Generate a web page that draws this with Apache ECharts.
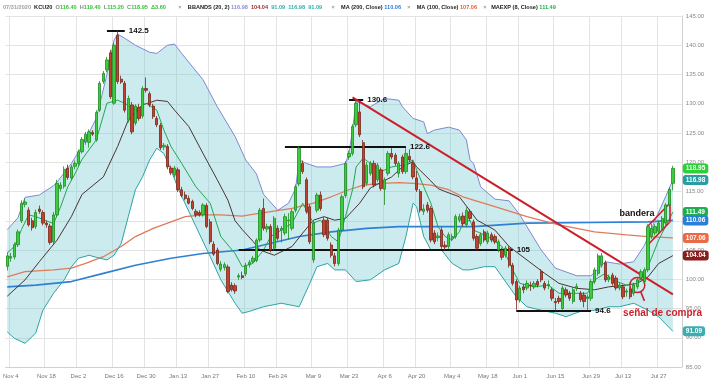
<!DOCTYPE html>
<html><head><meta charset="utf-8">
<script src="https://cdn.jsdelivr.net/npm/echarts@6/dist/echarts.min.js"></script>
<style>html,body{margin:0;padding:0;background:#fff}#c{width:710px;height:383px}</style>
</head><body><div id="c"></div>
<script>
// trading days (category axis)
const tradingDays = [
  ["Nov",[1,4,5,6,7,8,11,12,13,14,15,18,19,20,21,22,25,26,27,29]],
  ["Dec",[2,3,4,5,6,9,10,11,12,13,16,17,18,19,20,23,24,26,27,30,31]],
  ["Jan",[2,3,6,7,8,9,10,13,14,15,16,17,21,22,23,24,27,28,29,30,31]],
  ["Feb",[3,4,5,6,7,10,11,12,13,14,18,19,20,21,24,25,26,27,28]],
  ["Mar",[2,3,4,5,6,9,10,11,12,13,16,17,18,19,20,23,24,25,26,27,30,31]],
  ["Apr",[1,2,3,6,7,8,9,13,14,15,16,17,20,21,22,23,24,27,28,29,30]],
  ["May",[1,4,5,6,7,8,11,12,13,14,15,18,19,20,21,22,26,27,28,29]],
  ["Jun",[1,2,3,4,5,8,9,10,11,12,15,16,17,18,19,22,23,24,25,26,29,30]],
  ["Jul",[1,2,6,7,8,9,10,13,14,15,16,17,20,21,22,23,24,27,28,29,30,31]],
  ["Aug",[3,4]]
];
const labelDates = ["Nov 4","Nov 18","Dec 2","Dec 16","Dec 30","Jan 13","Jan 27","Feb 10","Feb 24","Mar 9","Mar 23","Apr 6","Apr 20","May 4","May 18","Jun 1","Jun 15","Jun 29","Jul 13","Jul 27"];
const yTicks = [85,90,95,100,105,110,115,120,125,130,135,140,145];

// OHLC (KCU20 daily)
const opens = [102.2,103.6,103.8,105.9,110.0,112.8,111.8,110.0,109.0,112.0,111.4,109.6,109.1,106.4,111.0,115.5,115.9,119.0,117.3,119.3,
119.8,121.8,123.5,123.4,125.1,123.8,128.9,133.8,135.8,138.7,130.1,141.7,134.2,133.5,127.2,129.8,126.7,129.4,127.9,132.6,131.7,
129.6,127.5,126.3,122.6,122.7,119.0,117.8,118.7,115.3,114.4,113.8,113.3,111.6,111.4,111.0,112.6,109.8,106.0,105.0,101.7,102.0,
102.1,99.0,98.9,100.4,100.6,100.9,102.5,103.0,103.2,106.7,112.1,108.6,109.0,105.3,108.7,108.4,107.9,110.0,108.7,
111.8,116.3,119.8,117.0,112.4,103.3,111.8,114.4,110.1,110.1,105.85,104.0,102.7,108.4,114.3,120.9,121.5,126.4,128.6,123.35,116.4,118.1,
119.8,117.0,118.7,115.4,118.1,121.5,121.2,118.1,120.9,118.4,121.0,119.8,117.3,115.0,111.6,112.7,112.1,107.9,107.1,108.4,105.8,
105.6,107.0,107.3,110.1,110.8,109.3,111.55,109.8,107.3,106.1,108.1,106.4,107.6,107.3,105.0,105.0,104.1,105.3,102.4,99.6,
96.45,98.7,98.5,99.0,98.7,99.6,101.3,99.3,98.9,98.2,96.2,96.75,95.0,98.2,97.6,96.2,98.5,97.6,97.3,96.7,96.75,99.6,
101.0,102.4,102.8,99.9,100.7,100.2,98.5,98.7,97.8,98.2,97.6,98.7,100.2,99.6,101.6,107.3,107.9,108.2,108.7,109.6,112.7,116.4];
const highs = [104.6,104.5,106.3,108.5,113.5,113.8,112.3,110.5,111.9,112.6,111.8,110.0,109.5,111.5,117.0,116.6,119.3,119.6,119.6,120.3,
122.2,124.3,125.2,125.6,125.5,128.9,133.9,135.6,138.0,139.2,140.4,142.5,134.8,133.9,131.4,130.3,129.9,130.0,133.0,134.5,132.1,
130.0,127.9,126.7,123.3,123.1,119.4,119.4,119.1,115.8,115.0,114.3,113.6,112.0,111.8,113.0,113.0,110.3,106.5,105.4,103.1,102.9,
102.5,99.5,99.3,101.0,101.3,102.8,103.3,104.0,107.0,112.2,113.8,109.5,109.4,110.8,109.2,109.1,111.2,111.3,112.0,
116.2,122.8,120.3,117.4,112.8,110.0,114.8,115.0,110.6,110.5,106.3,104.5,108.8,114.5,120.2,122.0,126.5,130.6,130.3,123.8,120.0,120.2,
120.3,119.9,119.1,117.4,121.9,122.4,121.6,120.2,121.3,122.4,122.2,120.3,118.5,115.4,112.8,113.2,112.5,108.4,108.0,108.9,106.5,
108.0,107.8,111.1,111.2,111.4,112.3,112.0,110.2,107.7,108.0,108.5,108.3,108.0,107.7,106.8,105.4,105.7,105.7,102.8,100.0,
98.9,99.2,99.8,99.6,99.7,100.0,101.7,99.7,99.8,98.6,96.8,97.2,98.9,98.6,98.0,98.6,99.3,98.0,97.8,97.4,100.0,102.0,
104.4,104.5,103.2,100.8,101.1,100.6,99.4,99.1,98.4,98.6,99.4,100.3,101.7,102.0,109.4,109.5,109.4,110.0,110.8,113.0,115.7,119.4];
const lows = [101.5,103.0,103.4,105.5,109.6,112.3,109.0,108.3,108.6,111.2,109.2,108.8,105.9,106.0,110.6,115.0,115.5,117.0,116.9,118.8,
119.4,121.5,123.0,122.5,124.5,123.5,128.6,133.4,135.4,130.8,129.8,133.4,133.4,128.5,126.8,124.8,126.3,127.1,127.5,131.9,129.4,
127.4,126.0,122.1,122.1,118.8,117.8,117.4,114.9,114.0,113.5,112.8,111.8,110.6,110.7,110.7,108.7,106.0,104.0,102.4,101.3,101.5,
97.6,97.9,97.5,99.9,100.0,100.5,102.0,102.7,102.9,106.3,108.3,108.0,104.6,104.9,106.6,106.3,107.5,106.8,108.3,
111.4,115.9,118.0,111.2,106.0,102.8,111.4,111.7,107.2,106.6,103.7,102.2,102.3,108.0,113.9,120.4,121.1,126.0,124.3,115.4,116.0,117.7,
115.7,116.6,115.1,112.7,117.7,120.5,119.4,117.4,118.0,118.0,120.0,117.1,114.9,111.4,111.0,111.4,106.3,106.0,106.5,105.2,105.0,
105.2,106.5,106.9,109.7,109.0,108.9,110.0,106.6,104.9,105.7,106.3,106.0,106.3,106.0,104.6,103.3,103.7,102.0,98.9,94.8,
96.0,97.6,98.1,98.0,98.3,98.6,99.5,98.1,98.3,96.3,94.6,95.8,94.7,96.9,96.3,95.8,98.0,96.1,95.2,94.7,96.3,99.2,
100.6,102.0,99.5,99.5,98.9,98.1,98.1,96.6,97.0,96.6,97.2,98.3,99.8,99.2,101.2,106.9,107.5,107.8,108.3,109.2,112.3,115.2];
const closes = [104.0,103.9,105.9,108.1,113.0,113.2,109.3,108.8,111.4,111.6,109.6,109.3,106.3,111.0,116.4,116.1,118.8,117.4,119.2,119.8,
121.8,123.9,124.8,125.2,124.8,128.5,133.5,135.2,137.5,131.2,140.0,133.8,133.7,128.9,130.9,125.2,129.6,127.5,132.6,132.3,129.8,
127.8,126.4,122.5,122.9,119.2,118.2,119.0,115.3,114.3,113.8,113.0,112.1,111.0,111.0,112.7,109.0,106.4,104.3,102.7,102.6,102.5,
97.9,98.2,98.0,100.6,100.3,102.3,102.9,103.6,106.7,111.8,108.7,109.0,105.0,110.4,107.0,108.7,110.7,110.1,111.55,
115.8,122.4,118.4,111.6,106.4,109.6,114.4,112.1,107.6,107.0,104.1,102.7,108.4,114.1,119.8,121.5,126.1,130.1,124.7,115.8,119.5,119.8,
116.1,119.5,115.5,117.0,121.5,120.9,119.8,119.8,118.4,121.5,120.4,117.5,115.3,111.8,112.0,111.8,106.7,106.4,107.4,105.6,105.5,
107.6,107.3,110.7,110.7,109.5,111.8,110.4,107.0,105.3,107.6,106.7,107.9,106.7,106.4,106.4,103.75,105.3,102.4,99.3,96.45,
98.5,98.2,99.3,98.9,99.3,99.0,99.9,98.5,99.1,96.75,96.0,96.2,98.5,97.3,96.75,98.2,98.8,96.5,96.2,97.0,99.6,101.6,
104.0,104.0,99.9,100.4,99.3,98.5,99.0,97.0,98.0,97.0,99.0,99.9,101.3,101.6,109.0,108.7,109.0,109.6,110.4,112.7,115.35,118.95];

// indicator lines: [tradingDayIndex, value]
const bbUpper = [[0,108.5],[3,110.5],[5,114.0],[9,114.4],[13,116.0],[14,116.6],[18,119.8],[21,122.7],[25,127.5],[28,135.0],[30,140.9],[31,141.9],[33,141.2],[36,140.0],[40,138.8],[42,138.6],[45,140.0],[47,140.2],[49,138.6],[55,134.1],[59,129.5],[64,124.4],[67,120.4],[70,118.0],[72,114.5],[76,111.8],[79,113.0],[81,115.5],[82,120.4],[84,119.8],[87,119.2],[91,119.2],[95,119.8],[96,121.5],[97,125.5],[98,130.4],[102,129.5],[106,130.9],[110,130.6],[111,129.5],[114,127.5],[117,126.9],[118,124.9],[120,125.5],[124,126.0],[127,125.5],[129,123.8],[130,120.4],[131,119.8],[133,115.8],[137,113.7],[141,113.4],[144,111.0],[150,105.0],[154,101.9],[160,100.6],[164,100.6],[168,103.0],[172,102.6],[176,103.0],[179,105.8],[182,110.1],[185,114.2],[187,116.98]];
const bbLower = [[0,91.0],[2,89.9],[5,89.05],[8,90.8],[10,94.7],[13,97.6],[16,99.9],[18,102.1],[20,103.6],[23,104.1],[25,103.75],[28,103.3],[30,104.1],[32,106.1],[34,110.7],[36,115.3],[38,117.5],[40,120.4],[42,122.4],[44,121.5],[46,118.7],[48,115.5],[53,109.0],[57,103.9],[60,99.9],[64,95.9],[66,94.2],[68,94.5],[72,95.3],[77,95.9],[82,95.3],[85,99.3],[87,102.15],[90,102.7],[92,101.6],[95,101.6],[98,99.6],[102,99.9],[106,101.6],[110,102.7],[112,107.3],[114,113.0],[115,112.4],[117,107.3],[119,105.0],[122,105.0],[125,102.7],[128,101.6],[130,101.6],[134,102.15],[137,102.15],[143,97.0],[146,95.3],[150,94.7],[154,94.2],[157,93.6],[161,94.5],[165,94.7],[169,95.3],[172,95.3],[176,95.9],[180,94.7],[183,93.6],[187,91.09]];
const bbMid = [[0,97.1],[5,99.9],[9,103.0],[14,106.7],[18,110.7],[21,114.5],[27,117.5],[31,122.7],[34,127.2],[38,129.8],[42,130.6],[45,130.4],[47,128.9],[51,126.1],[55,121.5],[59,117.0],[62,113.5],[64,110.0],[66,108.5],[69,106.5],[71,105.0],[75,104.1],[80,105.6],[83,107.9],[86,110.1],[89,110.7],[92,110.1],[95,110.4],[99,113.0],[102,115.6],[108,117.5],[111,119.2],[114,120.1],[115,119.2],[119,116.8],[121,115.5],[123,115.0],[127,114.1],[132,110.1],[137,108.4],[141,105.6],[146,103.3],[151,101.0],[155,99.3],[160,98.45],[165,98.2],[169,98.7],[174,99.0],[177,99.3],[180,100.4],[183,102.7],[187,104.04]];
const ema8 = [[0,104.5],[2,105.6],[4,108.5],[6,111.0],[8,110.7],[11,110.0],[13,109.5],[15,112.4],[17,115.8],[19,118.0],[21,120.5],[25,123.8],[28,130.1],[31,130.6],[33,130.1],[36,128.9],[39,130.1],[42,128.9],[44,125.5],[46,122.7],[49,119.8],[53,115.8],[57,113.0],[60,107.3],[64,104.4],[66,102.15],[69,102.7],[72,105.0],[74,107.3],[77,108.4],[80,109.6],[83,113.0],[86,109.6],[88,110.1],[91,107.3],[93,106.4],[95,110.7],[97,115.3],[98,119.2],[100,120.7],[102,119.8],[105,118.4],[108,119.2],[111,119.5],[114,120.4],[115,118.7],[117,115.8],[119,113.0],[121,109.0],[123,107.3],[125,106.7],[127,108.1],[128,109.6],[130,110.1],[131,108.4],[135,107.3],[139,105.6],[142,101.6],[144,99.3],[148,98.7],[152,99.0],[155,97.6],[159,97.6],[163,97.6],[165,99.9],[168,101.0],[170,99.9],[174,99.0],[177,99.3],[180,102.15],[183,106.7],[187,111.49]];
const ma100 = [[0,100.4],[5,101.3],[13,101.6],[18,101.9],[22,102.7],[27,103.85],[32,105.6],[36,107.3],[41,108.7],[46,109.8],[50,110.7],[55,111.0],[60,111.0],[66,110.8],[68,111.0],[74,111.55],[80,112.1],[86,113.0],[91,114.1],[96,115.3],[100,116.1],[105,116.4],[110,116.5],[114,116.4],[119,116.1],[124,115.3],[128,114.1],[137,112.4],[146,110.7],[155,109.3],[165,108.1],[174,107.6],[180,107.3],[187,107.06]];
const ma200 = [[0,98.7],[8,99.0],[18,99.6],[27,101.0],[36,102.4],[46,103.6],[55,104.4],[66,105.0],[72,105.85],[82,107.3],[91,108.1],[101,108.7],[110,109.0],[120,109.0],[131,109.0],[146,109.6],[164,109.7],[180,109.8],[187,110.06]];

// annotation levels
const levels = [
  {from:28, to:33, value:142.5, text:"142.5"},
  {from:96, to:100, value:130.6, text:"130.6"},
  {from:78, to:112, value:122.6, text:"122.6"},
  {from:65, to:142, value:105.0, text:"105"},
  {from:143, to:164, value:94.6, text:"94.6"}
];
const trendLine = [[97,131.1],[187,97.4]];
const flagLines = [[[180,109.1],[186,112.9]],[[180,105.9],[186,109.7]],[[186,112.9],[186,109.7]]];
const signalCircle = [177, 99.0];
const signalPointer = [[178,97.8],[179,96.3]];
const signalText = [173, 94.2];
const flagText = [172, 111.3];

// last-value tags
const tags = [
  {value:118.95, color:"#2fcf3a"},
  {value:116.98, color:"#2a9da3"},
  {value:111.49, color:"#1fae4e"},
  {value:110.06, color:"#2a7fd6"},
  {value:107.06, color:"#ea6a45"},
  {value:104.04, color:"#8a1d1d"},
  {value:91.09, color:"#3aaeb0"}
];

const dates = [];
tradingDays.forEach(([m, ds]) => ds.forEach(d => dates.push(m + " " + d)));
const candles = opens.map((o, i) => [o, closes[i], lows[i], highs[i]]);
const showDate = (i, v) => labelDates.indexOf(v) >= 0;
const C = i => dates[i];

const chart = echarts.init(document.getElementById('c'), null, {renderer:'canvas'});
const red = '#cc1f2a';
const FONT = 'Liberation Sans, Arial, sans-serif';
const FS = 5.6;
const rs = c => ({color:c, fontSize:FS, fontFamily:FONT});

const lineSeries = (name, data, color, width, z) => ({
  name, type:'line', data, symbol:'none', smooth:false, z,
  lineStyle:{color, width}, silent:true, animation:false
});

const option = {
  animation:false,
  backgroundColor:'#fff',
  title:{
    left:3, top:4, padding:0,
    text:'{d|07/31/2020}  {b|KCU20}  {g|O}{v|116.40}  {g|H}{v|119.40}  {g|L}{v|115.20}  {g|C}{v|118.95}  {v|Δ3.60}        {x|×}    {b|BBANDS (20, 2)} {p|116.98}  {r|104.04}  {t|91.09}  {t|116.98}  {t|91.09}      {x|×}    {b|MA (200, Close)} {u|110.06}    {x|×}    {b|MA (100, Close)} {o|107.06}    {x|×}   {b|MAEXP (8, Close)} {e|111.49}',
    textStyle:{
      fontSize:FS, fontFamily:FONT,
      rich:{
        d:rs('#a0a0a0'),
        b:Object.assign(rs('#222'), {fontWeight:'bold'}),
        g:rs('#8a8a8a'),
        v:rs('#36c13a'),
        x:rs('#999'),
        p:rs('#8a8fd8'),
        r:rs('#9a2a2a'),
        t:rs('#2fb0b0'),
        u:rs('#2a7fd6'),
        o:rs('#e0603a'),
        e:rs('#20b050')
      }
    }
  },
  grid:{left:1.6, right:28.2, top:16, bottom:16, containLabel:false},
  xAxis:{
    type:'category', data:dates, boundaryGap:true,
    axisLine:{show:true, lineStyle:{color:'#d0d0d0'}},
    axisTick:{show:false},
    axisLabel:{interval:showDate, fontSize:6, color:'#777', margin:6, fontFamily:FONT},
    splitLine:{show:true, interval:showDate, lineStyle:{color:'#e3e3e3', width:1}}
  },
  yAxis:{
    type:'value', position:'right', min:yTicks[0], max:yTicks[yTicks.length-1], interval:5,
    axisLine:{show:true, lineStyle:{color:'#d0d0d0'}},
    axisTick:{show:false},
    axisLabel:{fontSize:6, color:'#888', margin:4, formatter:v => v.toFixed(2), fontFamily:FONT},
    splitLine:{show:true, lineStyle:{color:'#e3e3e3', width:1}}
  },
  series:[
    {
      type:'custom', z:1, silent:true, clip:true, data:[[0, 100]],
      renderItem:(params, api) => {
        const up = bbUpper.map(p => api.coord(p));
        const lo = bbLower.slice().reverse().map(p => api.coord(p));
        return {type:'polygon', shape:{points:up.concat(lo)}, style:{fill:'rgba(120,203,212,0.38)'}};
      }
    },
    lineSeries('MA200', ma200, '#2f80d2', 1.6, 3),
    lineSeries('MA100', ma100, '#e07a5a', 1.3, 3),
    lineSeries('BBup', bbUpper, '#8088d0', 1, 4),
    lineSeries('BBlow', bbLower, '#2ea3a5', 1, 4),
    lineSeries('BBmid', bbMid, '#4a3434', 1, 4),
    lineSeries('EMA8', ema8, '#1fa94f', 1, 4),
    {
      name:'KCU20', type:'candlestick', z:5, data:candles, barWidth:2.8, silent:true, clip:false,
      itemStyle:{color:'#3ccc3c', color0:'#c0432f', borderColor:'#1e8c22', borderColor0:'#7a2418', borderWidth:0.8},
      markLine:{
        silent:true, symbol:'none', animation:false,
        label:{show:true, position:'end', distance:4, color:'#111', fontSize:8, fontWeight:'bold', fontFamily:FONT},
        data:[].concat(
          levels.map(l => [{coord:[C(l.from), l.value], lineStyle:{color:'#111', width:2, type:'solid'}, label:{formatter:l.text}}, {coord:[C(l.to), l.value]}]),
          [[{coord:[C(trendLine[0][0]), trendLine[0][1]], lineStyle:{color:red, width:2, type:'solid'}, label:{show:false}}, {coord:[C(trendLine[1][0]), trendLine[1][1]]}]],
          flagLines.map(f => [{coord:[C(f[0][0]), f[0][1]], lineStyle:{color:red, width:1.6, type:'solid'}, label:{show:false}}, {coord:[C(f[1][0]), f[1][1]]}]),
          [[{coord:[C(signalPointer[0][0]), signalPointer[0][1]], lineStyle:{color:red, width:1.6, type:'solid'}, label:{show:false}}, {coord:[C(signalPointer[1][0]), signalPointer[1][1]]}]],
          tags.map(t => ({yAxis:t.value, lineStyle:{color:'rgba(0,0,0,0)', width:0}, label:{show:true, position:'end', distance:1, formatter:t.value.toFixed(2), color:'#fff', fontSize:6.5, fontWeight:'bold', backgroundColor:t.color, padding:[2,3,1,3], borderRadius:3}}))
        )
      },
      markPoint:{
        silent:true, animation:false,
        data:[
          {coord:[C(signalCircle[0]), signalCircle[1]], symbol:'circle', symbolSize:15, itemStyle:{color:'rgba(0,0,0,0)', borderColor:red, borderWidth:1.5}, label:{show:false}},
          {coord:[C(signalText[0]), signalText[1]], symbol:'circle', symbolSize:0, label:{show:true, position:'right', distance:0, formatter:'señal de compra', color:red, fontSize:10, fontWeight:'bold', fontFamily:FONT}},
          {coord:[C(flagText[0]), flagText[1]], symbol:'circle', symbolSize:0, label:{show:true, position:'right', distance:0, formatter:'bandera', color:'#111', fontSize:9, fontWeight:'bold', fontFamily:FONT}}
        ]
      }
    }
  ]
};
chart.setOption(option);
</script>
</body></html>
